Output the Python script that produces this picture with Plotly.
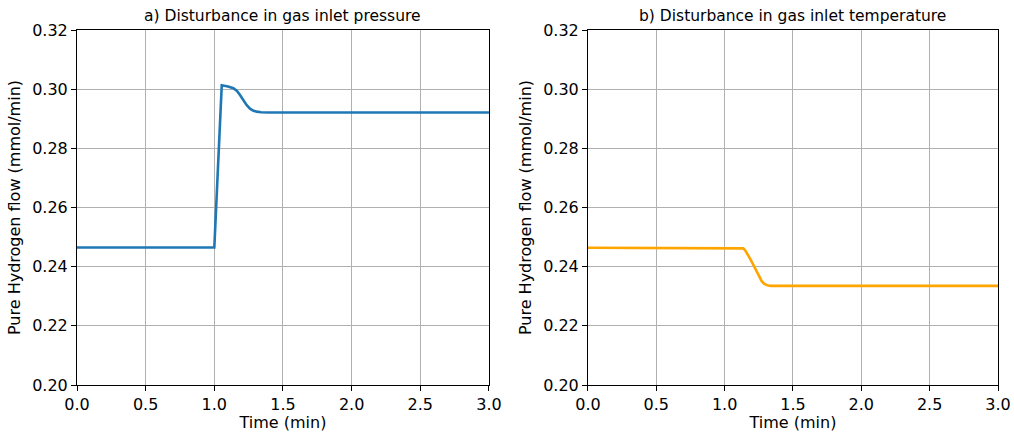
import plotly.graph_objects as go
from plotly.subplots import make_subplots

# Panel a) disturbance in gas inlet pressure
time_a = [0.0, 1.0, 1.054, 1.10, 1.139, 1.165, 1.187, 1.21, 1.236, 1.26, 1.285, 1.309, 1.34, 1.40, 1.479, 2.0, 3.0]
flow_a = [0.2465, 0.2465, 0.3013, 0.3009, 0.3003, 0.2994, 0.2980, 0.2963, 0.2946, 0.2934, 0.2927, 0.2924, 0.2922, 0.2921, 0.2921, 0.2921, 0.2921]

# Panel b) disturbance in gas inlet temperature
time_b = [0.0, 1.12, 1.136, 1.15, 1.165, 1.185, 1.21, 1.234, 1.255, 1.271, 1.29, 1.305, 1.319, 1.34, 2.0, 3.0]
flow_b = [0.2464, 0.2464, 0.2462, 0.2455, 0.2444, 0.2428, 0.2406, 0.2383, 0.2364, 0.2351, 0.2342, 0.2338, 0.2336, 0.2335, 0.2335, 0.2335]

titles = ["a) Disturbance in gas inlet pressure", "b) Disturbance in gas inlet temperature"]
x_ticks = [0.0, 0.5, 1.0, 1.5, 2.0, 2.5, 3.0]
y_ticks = [0.20, 0.22, 0.24, 0.26, 0.28, 0.30, 0.32]

fig = make_subplots(rows=1, cols=2, horizontal_spacing=0.1075)
fig.add_trace(go.Scatter(x=time_a, y=flow_a, mode="lines",
                         line=dict(color="#1f77b4", width=2.6),
                         showlegend=False, cliponaxis=True), row=1, col=1)
fig.add_trace(go.Scatter(x=time_b, y=flow_b, mode="lines",
                         line=dict(color="#FFA500", width=2.6),
                         showlegend=False, cliponaxis=True), row=1, col=2)

font = "DejaVu Sans"
for c in (1, 2):
    fig.update_xaxes(range=[0, 3], tickvals=x_ticks, ticktext=[f"{v:.1f}" for v in x_ticks],
                     showline=True, linecolor="black", linewidth=1, mirror=True,
                     ticks="outside", ticklen=5, tickcolor="black", automargin=False,
                     showgrid=True, gridcolor="#b0b0b0", gridwidth=1, zeroline=False,
                     tickfont=dict(family=font, size=16, color="black"),
                     title=dict(text="Time (min)", font=dict(family=font, size=16, color="black"), standoff=6),
                     row=1, col=c)
    fig.update_yaxes(range=[0.20, 0.32], tickvals=y_ticks, ticktext=[f"{v:.2f}" for v in y_ticks],
                     showline=True, linecolor="black", linewidth=1, mirror=True,
                     ticks="outside", ticklen=5, tickcolor="black", automargin=False,
                     showgrid=True, gridcolor="#b0b0b0", gridwidth=1, zeroline=False,
                     tickfont=dict(family=font, size=16, color="black"),
                     title=dict(text="Pure Hydrogen flow (mmol/min)", font=dict(family=font, size=16, color="black"), standoff=7),
                     row=1, col=c)

fig.update_xaxes(domain=[0.0, 0.4473], row=1, col=1)
fig.update_xaxes(domain=[0.5548, 1.0], row=1, col=2)

annots = []
for i, t in enumerate(titles):
    xd = [0.0, 0.4473] if i == 0 else [0.5548, 1.0]
    annots.append(dict(text=t, x=(xd[0] + xd[1]) / 2, y=1.0, xref="paper", yref="paper",
                       xanchor="center", yanchor="bottom", yshift=3, showarrow=False,
                       font=dict(family=font, size=15.5, color="black")))

fig.update_layout(width=1014, height=432, margin=dict(l=77, r=16, t=30, b=47),
                  paper_bgcolor="white", plot_bgcolor="white",
                  annotations=annots, font=dict(family=font))

fig.write_html("out.html", config={"displayModeBar": False},
               post_script="document.body.style.margin='0px';")
